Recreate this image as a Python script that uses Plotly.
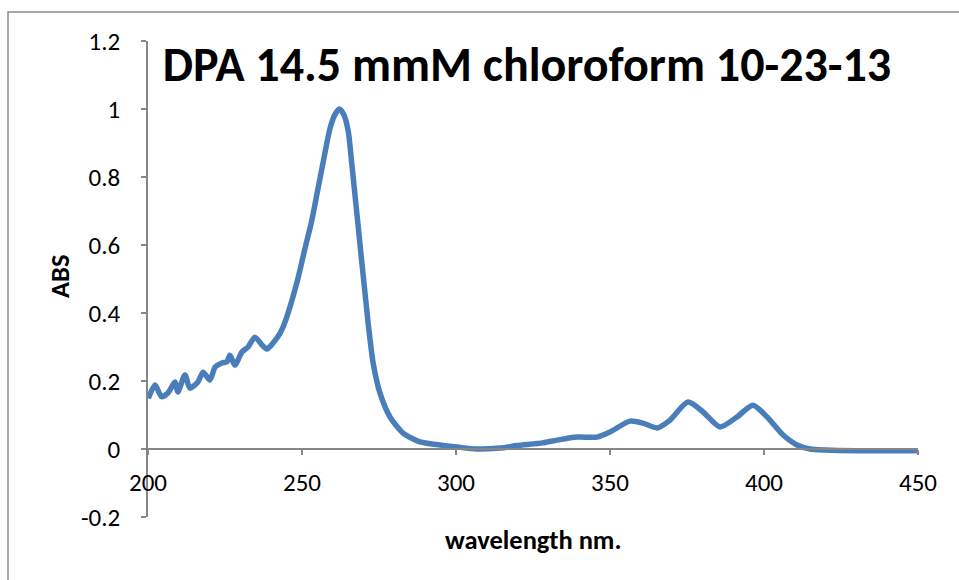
import plotly.graph_objects as go

wavelength = [200.1, 202.3, 204.4, 206.5, 208.8, 209.7, 212.0, 213.6, 216.2, 217.9,
              220.1, 221.8, 224.0, 225.6, 226.6, 228.2, 230.5, 232.5, 234.7, 237.0,
              238.6, 240.6, 242.9, 244.5, 248.5, 251.0, 253.1, 254.8, 256.9, 259.1,
              260.6, 262.1, 263.6, 265.0, 266.1, 267.2, 268.3, 269.4, 270.5, 271.6,
              273.1, 275.3, 278.6, 282.8, 288.3, 294.8, 300.3, 306.8, 314.3, 319.8,
              328.2, 332.8, 339.3, 345.8, 350.0, 356.5, 360.7, 365.3, 369.5, 375.3,
              380.2, 385.7, 391.2, 396.4, 401.0, 406.2, 410.7, 415.0, 420.0, 430.0,
              440.0, 450.0]
absorbance = [0.149, 0.188, 0.154, 0.165, 0.197, 0.168, 0.218, 0.179, 0.197, 0.226,
              0.203, 0.241, 0.253, 0.256, 0.276, 0.247, 0.285, 0.300, 0.329, 0.306,
              0.294, 0.312, 0.341, 0.374, 0.495, 0.591, 0.669, 0.747, 0.845, 0.943,
              0.982, 1.000, 0.983, 0.935, 0.845, 0.747, 0.650, 0.551, 0.455, 0.360,
              0.253, 0.165, 0.094, 0.047, 0.021, 0.012, 0.006, 0.000, 0.003, 0.010,
              0.018, 0.026, 0.035, 0.035, 0.050, 0.082, 0.076, 0.062, 0.085, 0.138,
              0.109, 0.065, 0.094, 0.129, 0.094, 0.041, 0.012, 0.000, -0.003, -0.005,
              -0.005, -0.005]

x_ticks = [200, 250, 300, 350, 400, 450]
y_ticks = [-0.2, 0, 0.2, 0.4, 0.6, 0.8, 1, 1.2]
y_tick_labels = ["-0.2", "0", "0.2", "0.4", "0.6", "0.8", "1", "1.2"]

title_text = "DPA 14.5 mmM chloroform 10-23-13"
x_title = "wavelength nm."
y_title = "ABS"

FONT = "Carlito, Lato, sans-serif"
AXIS_GRAY = "#868686"

fig = go.Figure()
fig.add_trace(go.Scatter(
    x=wavelength, y=absorbance, mode="lines",
    line=dict(color="#4a7ebb", width=5.5, shape="spline", smoothing=0.7),
    showlegend=False, hoverinfo="skip",
))

y_min, y_max = -0.2, 1.2
zero_frac = (0 - y_min) / (y_max - y_min)

fig.update_layout(
    width=959, height=580,
    margin=dict(l=148, r=41, t=41, b=63),
    paper_bgcolor="white", plot_bgcolor="white",
    font=dict(family=FONT, color="black"),
    title=dict(text=title_text, x=(527 - 148) / 770, xref="paper", xanchor="center",
               y=1 - 64 / 580, yref="container", yanchor="middle",
               font=dict(family=FONT, size=48, color="black", weight="bold")),
    xaxis=dict(range=[200, 450], tickvals=x_ticks, ticktext=[str(v) for v in x_ticks],
               showgrid=False, zeroline=False, showline=True, linecolor=AXIS_GRAY,
               linewidth=2, ticks="outside", ticklen=5, tickwidth=1.5, tickcolor=AXIS_GRAY,
               anchor="free", position=zero_frac, ticklabelstandoff=6,
               tickfont=dict(size=25, family=FONT, color="black")),
    yaxis=dict(range=[y_min, y_max], tickvals=y_ticks, ticktext=y_tick_labels,
               showgrid=False, zeroline=False, showline=True, linecolor=AXIS_GRAY,
               linewidth=1.5, ticks="outside", ticklen=5, tickwidth=1.5, tickcolor=AXIS_GRAY,
               ticklabelstandoff=16,
               tickfont=dict(size=25, family=FONT, color="black")),
    annotations=[
        dict(text=f"<b>{x_title}</b>", x=(533 - 148) / 770, y=(517 - 540) / 476,
             xref="paper", yref="paper", xanchor="center", yanchor="middle",
             showarrow=False, font=dict(size=26.5, family=FONT, color="black")),
        dict(text=f"<b>{y_title}</b>", x=(60 - 148) / 770, y=(517 - 277) / 476,
             xref="paper", yref="paper", xanchor="center", yanchor="middle",
             textangle=-90, showarrow=False, font=dict(size=26.5, family=FONT, color="black")),
    ],
    shapes=[
        dict(type="rect", xref="paper", yref="paper",
             x0=(8 - 148) / 770, x1=(975 - 148) / 770,
             y0=(517 - 600) / 476, y1=(517 - 12) / 476,
             line=dict(color="#8c8c8c", width=1.5), fillcolor="rgba(0,0,0,0)", layer="below"),
    ],
)

fig.write_html("out.html")
